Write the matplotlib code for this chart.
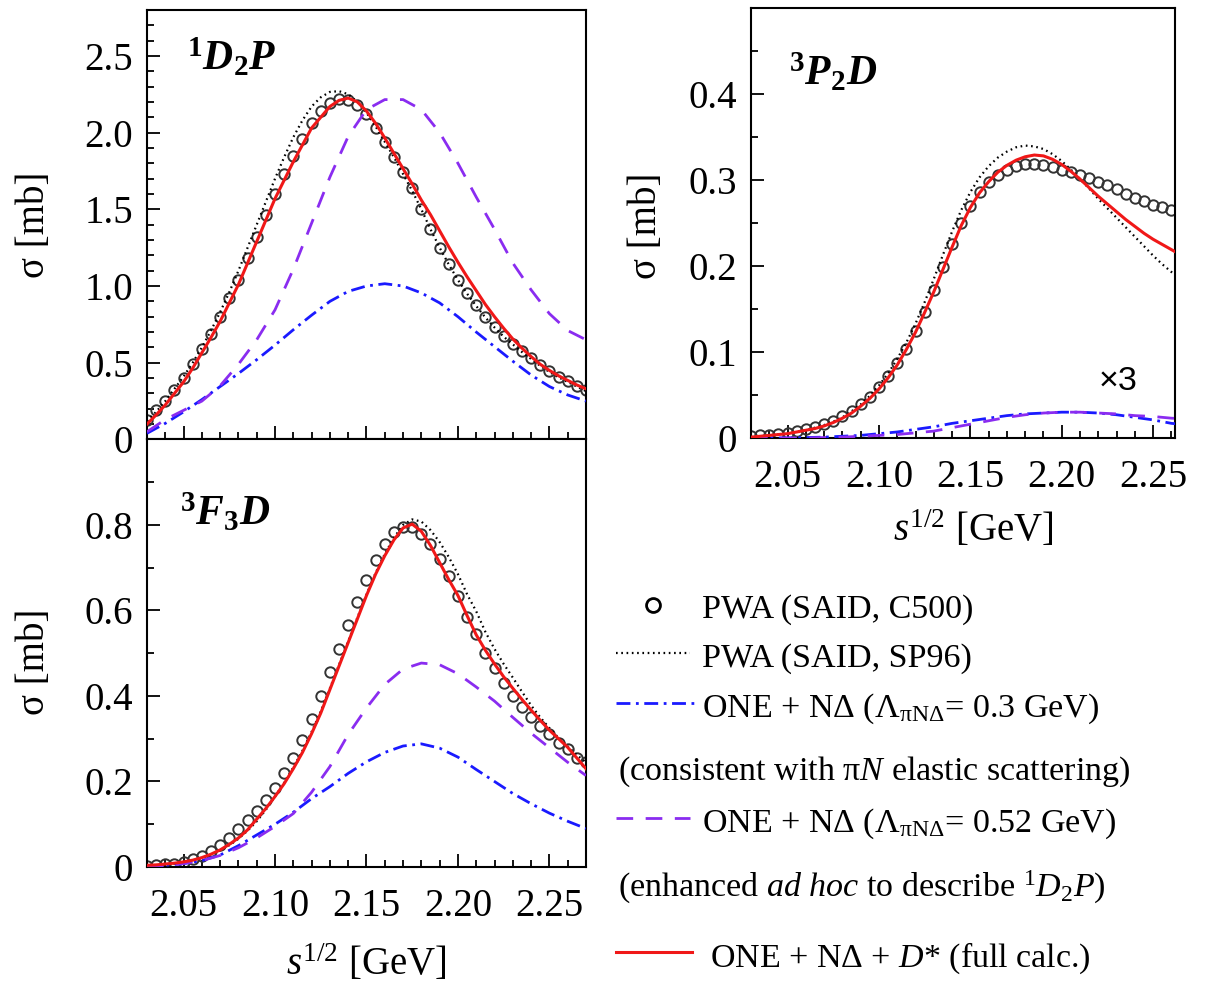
import numpy as np
import matplotlib
matplotlib.use('Agg')
import matplotlib.pyplot as plt
from matplotlib.ticker import MultipleLocator

# === Data ===
# fine grid 2.030 ... 2.270 step 0.005 (49 pts), coarse grid step 0.01 (25 pts)
x_fine = np.linspace(2.03, 2.27, 49)
x_coarse = np.linspace(2.03, 2.27, 25)

# --- 1D2P ---
d2p_c500 = [0.13, 0.19, 0.25, 0.32, 0.40, 0.49, 0.59, 0.69, 0.80, 0.92, 1.04, 1.18, 1.32,
            1.46, 1.60, 1.73, 1.85, 1.96, 2.06, 2.14, 2.19, 2.22, 2.215, 2.18, 2.12, 2.03,
            1.94, 1.84, 1.74, 1.64, 1.50, 1.37, 1.25, 1.145, 1.04, 0.955, 0.875, 0.80, 0.735,
            0.675, 0.625, 0.575, 0.53, 0.485, 0.445, 0.41, 0.38, 0.35, 0.32]
d2p_sp96 = [0.12, 0.18, 0.25, 0.33, 0.41, 0.50, 0.60, 0.71, 0.83, 0.96, 1.10, 1.25, 1.40,
            1.55, 1.70, 1.84, 1.97, 2.08, 2.17, 2.23, 2.265, 2.27, 2.25, 2.20, 2.13, 2.04,
            1.94, 1.84, 1.73, 1.62, 1.50, 1.37, 1.25, 1.14, 1.04, 0.95, 0.87, 0.795, 0.73,
            0.67, 0.62, 0.57, 0.525, 0.48, 0.44, 0.405, 0.375, 0.345, 0.315]
d2p_full = [0.10, 0.16, 0.225, 0.30, 0.375, 0.465, 0.565, 0.665, 0.77, 0.89, 1.01, 1.15,
            1.29, 1.43, 1.57, 1.69, 1.81, 1.92, 2.03, 2.10, 2.17, 2.21, 2.225, 2.20, 2.14,
            2.06, 1.965, 1.865, 1.765, 1.665, 1.56, 1.465, 1.36, 1.255, 1.155, 1.06, 0.97,
            0.88, 0.80, 0.725, 0.655, 0.595, 0.54, 0.49, 0.45, 0.415, 0.385, 0.355, 0.33]
d2p_lam03 = [0.04, 0.105, 0.18, 0.26, 0.345, 0.43, 0.52, 0.615, 0.715, 0.81, 0.90, 0.965,
             1.0, 1.015, 1.0, 0.955, 0.89, 0.80, 0.70, 0.605, 0.51, 0.42, 0.345, 0.29, 0.25]
d2p_lam052 = [0.05, 0.13, 0.19, 0.25, 0.35, 0.49, 0.65, 0.845, 1.11, 1.41, 1.71, 1.975,
              2.15, 2.215, 2.215, 2.15, 2.0, 1.80, 1.58, 1.37, 1.15, 0.975, 0.82, 0.71, 0.65]

# --- 3F3D ---
f3d_c500 = [0.003, 0.005, 0.006, 0.008, 0.012, 0.018, 0.026, 0.037, 0.051, 0.068, 0.088,
            0.109, 0.131, 0.157, 0.185, 0.219, 0.256, 0.298, 0.346, 0.40, 0.455, 0.51,
            0.565, 0.62, 0.672, 0.718, 0.755, 0.783, 0.795, 0.795, 0.78, 0.755, 0.72, 0.68,
            0.635, 0.585, 0.545, 0.50, 0.465, 0.43, 0.40, 0.375, 0.35, 0.33, 0.31, 0.29,
            0.275, 0.256, 0.245]
f3d_sp96 = [0.003, 0.004, 0.006, 0.008, 0.011, 0.015, 0.021, 0.029, 0.039, 0.051, 0.066,
            0.085, 0.107, 0.134, 0.165, 0.197, 0.233, 0.272, 0.316, 0.364, 0.418, 0.473,
            0.528, 0.583, 0.637, 0.688, 0.732, 0.770, 0.800, 0.813, 0.808, 0.788, 0.760,
            0.725, 0.685, 0.638, 0.598, 0.550, 0.510, 0.475, 0.443, 0.410, 0.378, 0.350,
            0.325, 0.302, 0.282, 0.262, 0.245]
f3d_full = [0.004, 0.005, 0.007, 0.009, 0.012, 0.016, 0.022, 0.030, 0.040, 0.053, 0.068,
            0.087, 0.112, 0.137, 0.165, 0.195, 0.230, 0.268, 0.312, 0.360, 0.415, 0.470,
            0.525, 0.580, 0.635, 0.685, 0.728, 0.765, 0.793, 0.802, 0.785, 0.752, 0.712,
            0.672, 0.635, 0.588, 0.543, 0.507, 0.475, 0.445, 0.418, 0.392, 0.367, 0.343,
            0.320, 0.300, 0.280, 0.255, 0.230]
f3d_lam03 = [0.002, 0.004, 0.008, 0.015, 0.028, 0.05, 0.075, 0.10, 0.128, 0.16, 0.188,
             0.219, 0.246, 0.268, 0.283, 0.288, 0.278, 0.257, 0.228, 0.20, 0.172, 0.148,
             0.126, 0.107, 0.09]
f3d_lam052 = [0.0, 0.003, 0.008, 0.015, 0.027, 0.045, 0.068, 0.095, 0.125, 0.175, 0.235,
              0.31, 0.372, 0.427, 0.463, 0.477, 0.473, 0.452, 0.421, 0.388, 0.35, 0.313,
              0.279, 0.245, 0.214]

# --- 3P2D ---
p2d_c500 = [0.002, 0.003, 0.004, 0.005, 0.006, 0.008, 0.010, 0.013, 0.016, 0.020, 0.025,
            0.031, 0.039, 0.048, 0.059, 0.072, 0.087, 0.104, 0.124, 0.147, 0.172, 0.199,
            0.226, 0.250, 0.270, 0.286, 0.298, 0.306, 0.312, 0.316, 0.318, 0.318, 0.317,
            0.315, 0.312, 0.309, 0.306, 0.302, 0.298, 0.294, 0.289, 0.284, 0.279, 0.275,
            0.271, 0.268, 0.265, 0.262, 0.259]
p2d_sp96 = [0.001, 0.002, 0.003, 0.004, 0.005, 0.007, 0.009, 0.012, 0.015, 0.019, 0.024,
            0.031, 0.039, 0.049, 0.061, 0.075, 0.092, 0.111, 0.133, 0.158, 0.185, 0.213,
            0.240, 0.265, 0.286, 0.303, 0.316, 0.326, 0.333, 0.338, 0.340, 0.339, 0.336,
            0.330, 0.322, 0.312, 0.301, 0.290, 0.278, 0.267, 0.256, 0.245, 0.234, 0.223,
            0.212, 0.202, 0.193, 0.184, 0.176]
p2d_full = [0.001, 0.002, 0.003, 0.004, 0.005, 0.007, 0.009, 0.011, 0.014, 0.018, 0.023,
            0.029, 0.037, 0.046, 0.057, 0.070, 0.085, 0.103, 0.123, 0.146, 0.170, 0.196,
            0.222, 0.247, 0.268, 0.285, 0.298, 0.309, 0.317, 0.323, 0.327, 0.329, 0.328,
            0.324, 0.318, 0.310, 0.301, 0.291, 0.281, 0.272, 0.263, 0.254, 0.246, 0.238,
            0.231, 0.225, 0.219, 0.213, 0.207]
p2d_lam03 = [0.0, 0.0, 0.0, 0.0005, 0.001, 0.002, 0.003, 0.005, 0.007, 0.010, 0.013, 0.017,
             0.020, 0.023, 0.026, 0.028, 0.029, 0.030, 0.030, 0.029, 0.027, 0.024, 0.021,
             0.017, 0.015]
p2d_lam052 = [0.0, 0.0, 0.0, 0.0, 0.0005, 0.001, 0.002, 0.003, 0.004, 0.006, 0.008, 0.012,
              0.016, 0.020, 0.024, 0.027, 0.029, 0.030, 0.030, 0.029, 0.028, 0.026, 0.025,
              0.023, 0.022]

x_ticks = [2.05, 2.10, 2.15, 2.20, 2.25]
x_ticklabels = ['2.05', '2.10', '2.15', '2.20', '2.25']
d2p_yticks = [0, 0.5, 1.0, 1.5, 2.0, 2.5]
d2p_ylabels = ['0', '0.5', '1.0', '1.5', '2.0', '2.5']
f3d_yticks = [0, 0.2, 0.4, 0.6, 0.8]
f3d_ylabels = ['0', '0.2', '0.4', '0.6', '0.8']
p2d_yticks = [0, 0.1, 0.2, 0.3, 0.4]
p2d_ylabels = ['0', '0.1', '0.2', '0.3', '0.4']

# === Style ===
plt.rcParams['font.family'] = ['Liberation Serif', 'DejaVu Serif']
plt.rcParams['mathtext.fontset'] = 'custom'
plt.rcParams['mathtext.rm'] = 'Liberation Serif'
plt.rcParams['mathtext.it'] = 'Liberation Serif:italic'
plt.rcParams['mathtext.bf'] = 'Liberation Serif:bold'
plt.rcParams['mathtext.bfit'] = 'Liberation Serif:italic:bold'
plt.rcParams['lines.scale_dashes'] = False

FS_TICK = 28
FS_LAB = 28
FS_LEG = 24.5
C_RED = '#f01818'
C_BLUE = '#1a1aff'
C_PURPLE = '#8a2cf0'
C_CIRC = '#333333'
STY_DOT = dict(color='black', lw=1.6, dashes=(1.2, 2.6))
STY_DD = dict(color=C_BLUE, lw=2.0, dashes=(10, 4, 2, 4))
STY_DASH = dict(color=C_PURPLE, lw=2.0, dashes=(12, 9))
STY_RED = dict(color=C_RED, lw=2.2)
STY_CIRC = dict(ls='none', marker='o', ms=7.5, mfc='none', mec=C_CIRC, mew=1.4)


def draw_panel(ax, circ, sp96, full, lam03, lam052, xmax):
    ax.plot(x_fine, circ, **STY_CIRC, zorder=2)
    ax.plot(x_fine, sp96, **STY_DOT, zorder=3)
    ax.plot(x_coarse, lam03, **STY_DD, zorder=3)
    ax.plot(x_coarse, lam052, **STY_DASH, zorder=3)
    ax.plot(x_fine, full, **STY_RED, zorder=4)
    ax.set_xlim(2.03, xmax)
    ax.xaxis.set_minor_locator(MultipleLocator(0.01))
    ax.tick_params(which='both', direction='in', top=False, right=False,
                   labelsize=FS_TICK, width=1.3)
    ax.tick_params(which='major', length=9.5)
    ax.tick_params(which='minor', length=5)
    ax.tick_params(axis='y', pad=10)
    ax.tick_params(axis='x', pad=15)
    for sp in ax.spines.values():
        sp.set_linewidth(1.5)


fig = plt.figure(figsize=(12.21, 9.84), dpi=100)

# legend drawing layer (pixel coordinates)
lg = fig.add_axes([0, 0, 1, 1])
lg.set_xlim(0, 1221)
lg.set_ylim(984, 0)
lg.axis('off')

ax1 = fig.add_axes([0.1204, 0.5534, 0.3595, 0.4366])
ax2 = fig.add_axes([0.1204, 0.1189, 0.3595, 0.4345])
ax3 = fig.add_axes([0.6151, 0.5549, 0.3473, 0.4370])

# 1D2P
draw_panel(ax1, d2p_c500, d2p_sp96, d2p_full, d2p_lam03, d2p_lam052, 2.27)
ax1.set_ylim(0, 2.8)
ax1.set_yticks(d2p_yticks, d2p_ylabels)
ax1.yaxis.set_minor_locator(MultipleLocator(0.1))
ax1.set_xticks(x_ticks)
ax1.tick_params(axis='x', labelbottom=False)
ax1.set_ylabel('σ [mb]', fontsize=FS_LAB)
ax1.yaxis.set_label_coords(-0.214, 0.5)
ax1.text(0.09, 0.86, r'$^{\mathbf{1}}\mathbfit{D}_{\mathbf{2}}\mathbfit{P}$',
         transform=ax1.transAxes, fontsize=30)

# 3F3D
draw_panel(ax2, f3d_c500, f3d_sp96, f3d_full, f3d_lam03, f3d_lam052, 2.27)
ax2.set_ylim(0, 1.0)
ax2.set_yticks(f3d_yticks, f3d_ylabels)
ax2.yaxis.set_minor_locator(MultipleLocator(0.1))
ax2.set_xticks(x_ticks, x_ticklabels)
ax2.set_ylabel('σ [mb]', fontsize=FS_LAB)
ax2.yaxis.set_label_coords(-0.214, 0.48)
ax2.set_xlabel(r'$\mathit{s}^{1/2}$ [GeV]', fontsize=FS_LAB)
ax2.xaxis.set_label_coords(0.5, -0.18)
ax2.text(0.075, 0.80, r'$^{\mathbf{3}}\mathbfit{F}_{\mathbf{3}}\mathbfit{D}$',
         transform=ax2.transAxes, fontsize=30)

# 3P2D
draw_panel(ax3, p2d_c500, p2d_sp96, p2d_full, p2d_lam03, p2d_lam052, 2.262)
ax3.set_ylim(0, 0.5)
ax3.set_yticks(p2d_yticks, p2d_ylabels)
ax3.yaxis.set_minor_locator(MultipleLocator(0.05))
ax3.set_xticks(x_ticks, x_ticklabels)
ax3.set_ylabel('σ [mb]', fontsize=FS_LAB)
ax3.yaxis.set_label_coords(-0.203, 0.493)
ax3.set_xlabel(r'$\mathit{s}^{1/2}$ [GeV]', fontsize=FS_LAB)
ax3.xaxis.set_label_coords(0.524, -0.167)
ax3.text(0.09, 0.82, r'$^{\mathbf{3}}\mathbfit{P}_{\mathbf{2}}\mathbfit{D}$',
         transform=ax3.transAxes, fontsize=30)
ax3.text(2.231, 0.066, '×3', fontsize=FS_LEG, family='Liberation Sans',
         ha='center', va='center')

# === Legend ===
lg.plot([653], [605], ls='none', marker='o', ms=10, mfc='none', mec='black', mew=2)
lg.plot([616, 690], [653, 653], **STY_DOT)
lg.plot([616, 695], [703, 703], **STY_DD)
lg.plot([616, 690], [818, 818], **STY_DASH)
lg.plot([616, 692], [952, 952], **STY_RED)
lg.text(702, 618, 'PWA (SAID, C500)', fontsize=FS_LEG, va='baseline')
lg.text(702, 667, 'PWA (SAID, SP96)', fontsize=FS_LEG, va='baseline')
lg.text(702, 717, r'ONE + NΔ ($\Lambda_{\mathrm{\pi N\Delta}}$= 0.3 GeV)', fontsize=FS_LEG, va='baseline')
lg.text(618, 780, r'(consistent with $\mathrm{\pi}\mathit{N}$ elastic scattering)', fontsize=FS_LEG, va='baseline')
lg.text(702, 832, r'ONE + NΔ ($\Lambda_{\mathrm{\pi N\Delta}}$= 0.52 GeV)', fontsize=FS_LEG, va='baseline')
lg.text(618, 897, r'(enhanced $\mathit{ad}$ $\mathit{hoc}$ to describe $^{1}\mathit{D}_{2}\mathit{P}$)',
        fontsize=FS_LEG, va='baseline')
lg.text(710, 967, r'ONE + NΔ + $\mathit{D}$* (full calc.)', fontsize=FS_LEG, va='baseline')

plt.savefig('out.png', dpi=100)
plt.close()
